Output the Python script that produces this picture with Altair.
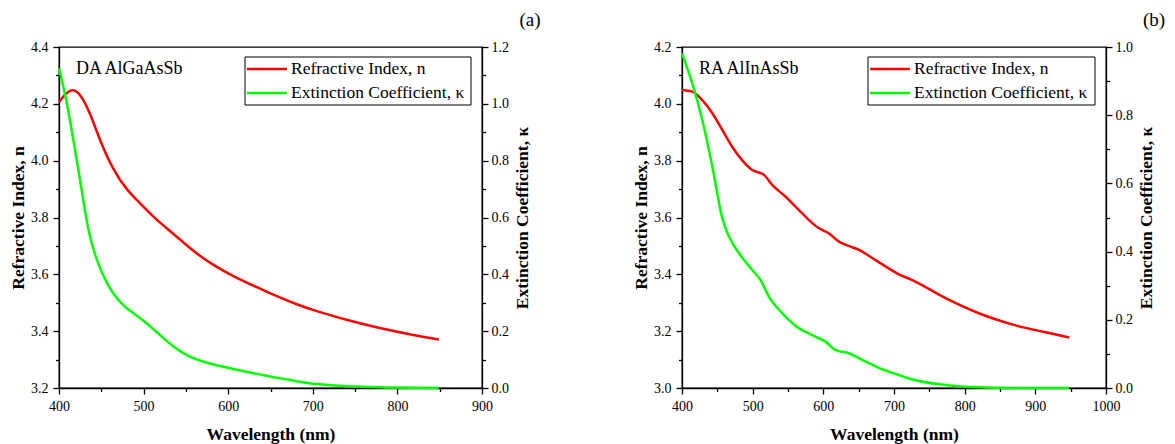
import altair as alt
import pandas as pd

# ---- data ----
series_names = ["Refractive Index, n", "Extinction Coefficient, κ"]
series_colors = ["#ff0000", "#00ff00"]

a_n_wl = [400, 414, 425, 437, 448, 464, 480, 496, 513, 535, 559, 582, 606, 645, 685, 701, 740, 779, 819, 849]
a_n_val = [4.207, 4.258, 4.238, 4.167, 4.073, 3.967, 3.897, 3.850, 3.797, 3.744, 3.680, 3.633, 3.592, 3.539,
           3.489, 3.474, 3.439, 3.410, 3.386, 3.371]

a_k_wl = [400, 409, 417, 425, 432, 437, 445, 456, 472, 488, 504, 519, 535, 551, 575, 606, 645, 685, 701, 740,
          779, 820, 849]
a_k_val = [1.125, 1.013, 0.873, 0.732, 0.597, 0.525, 0.445, 0.368, 0.298, 0.263, 0.228, 0.187, 0.145, 0.113,
           0.087, 0.067, 0.042, 0.022, 0.014, 0.005, 0.002, 0.0005, 0.0]

b_n_wl = [400, 414.6, 428.7, 443, 457, 471, 485, 499.5, 516, 528, 546.7, 565.6, 579.7, 594, 608, 622, 636,
          650.5, 674, 707, 726, 773, 820, 867, 914.6, 948]
b_n_val = [4.049, 4.043, 4.013, 3.967, 3.908, 3.849, 3.802, 3.767, 3.750, 3.714, 3.673, 3.626, 3.591, 3.562,
           3.544, 3.515, 3.500, 3.486, 3.450, 3.400, 3.380, 3.316, 3.263, 3.224, 3.196, 3.178]

b_k_wl = [400, 414.6, 428.7, 443, 457, 466.5, 480.7, 499.5, 511, 523, 542, 561, 584, 603, 617.5, 636, 660,
          683, 707, 726, 773, 820, 867, 948]
b_k_val = [0.981, 0.893, 0.786, 0.649, 0.498, 0.444, 0.395, 0.346, 0.317, 0.268, 0.219, 0.182, 0.155, 0.136,
           0.111, 0.102, 0.077, 0.055, 0.038, 0.025, 0.009, 0.002, 0.0, 0.0]

panels = [
    dict(name="DA AlGaAsSb", tag="(a)", xmax=900, nmin=3.2, nmax=4.4, kmax=1.2, interp="basis",
         n=(a_n_wl, a_n_val), k=(a_k_wl, a_k_val)),
    dict(name="RA AlInAsSb", tag="(b)", xmax=1000, nmin=3.0, nmax=4.2, kmax=1.0, interp="monotone",
         n=(b_n_wl, b_n_val), k=(b_k_wl, b_k_val)),
]

FONT = "Liberation Serif"
H = 341


def steps(lo, hi, step):
    out = []
    i = 0
    while lo + i * step <= hi + 1e-9:
        out.append(round(lo + i * step, 2))
        i += 1
    return out


y_major_test = "round(datum.value*10) % 2 == 0"
y_label = "round(datum.value*10) % 2 == 0 ? format(datum.value, '.1f') : ''"
x_major_test = "datum.value % 100 == 0"
x_label = "datum.value % 100 == 0 ? format(datum.value, 'd') : ''"


def panel(p, width):
    dn = pd.DataFrame({"wl": p["n"][0], "v": p["n"][1]})
    dk = pd.DataFrame({"wl": p["k"][0], "v": p["k"][1]})

    x = alt.X("wl:Q", scale=alt.Scale(domain=[400, p["xmax"]], nice=False, zero=False),
              axis=alt.Axis(values=steps(400, p["xmax"], 50), labelExpr=x_label, labelOverlap=False,
                            labelFlush=False,
                            tickSize={"condition": {"test": x_major_test, "value": 6}, "value": 3.5},
                            title="Wavelength (nm)", labelPadding=5, titlePadding=12))

    ln = alt.Chart(dn).mark_line(strokeWidth=2.5, interpolate=p["interp"], color=series_colors[0]).encode(
        x=x,
        y=alt.Y("v:Q", scale=alt.Scale(domain=[p["nmin"], p["nmax"]], nice=False, zero=False),
                axis=alt.Axis(orient="left", values=steps(p["nmin"], p["nmax"], 0.1), labelExpr=y_label,
                              labelOverlap=False, labelFlush=False,
                              tickSize={"condition": {"test": y_major_test, "value": 6}, "value": 3.5},
                              title="Refractive Index, n", labelPadding=5, titlePadding=3)),
    )
    lk = alt.Chart(dk).mark_line(strokeWidth=2.5, interpolate=p["interp"], color=series_colors[1]).encode(
        x=x,
        y=alt.Y("v:Q", scale=alt.Scale(domain=[0, p["kmax"]], nice=False, zero=False),
                axis=alt.Axis(orient="right", values=steps(0, p["kmax"], 0.1), labelExpr=y_label,
                              labelOverlap=False, labelFlush=False,
                              tickSize={"condition": {"test": y_major_test, "value": 6}, "value": 3.5},
                              title="Extinction Coefficient, κ", titleAngle=270, titleBaseline="top",
                              labelPadding=3, titlePadding=5)),
    )

    one = pd.DataFrame({"k": [0]})
    box = alt.Chart(one).mark_rect(fill="white", stroke="black", strokeWidth=1).encode(
        x=alt.value(186), x2=alt.value(width - 11), y=alt.value(10), y2=alt.value(58))
    legend_layers = [box]
    for i, (nm, col) in enumerate(zip(series_names, series_colors)):
        yy = 22 + 24 * i
        legend_layers.append(alt.Chart(one).mark_rule(color=col, strokeWidth=2.5).encode(
            x=alt.value(188), x2=alt.value(228), y=alt.value(yy)))
        legend_layers.append(alt.Chart(pd.DataFrame({"t": [nm]})).mark_text(
            font=FONT, fontSize=17.5, align="left", baseline="middle", color="black").encode(
            text="t:N", x=alt.value(232), y=alt.value(yy)))

    name = alt.Chart(pd.DataFrame({"t": [p["name"]]})).mark_text(
        font=FONT, fontSize=18, align="left", baseline="middle", color="black"
    ).encode(text="t:N", x=alt.value(17), y=alt.value(22))
    tag = alt.Chart(pd.DataFrame({"t": [p["tag"]]})).mark_text(
        font=FONT, fontSize=19, align="center", baseline="middle", color="black", clip=False
    ).encode(text="t:N", x=alt.value(width + 48), y=alt.value(-27))

    return alt.layer(ln, lk, *legend_layers, name, tag).resolve_scale(y="independent").properties(
        width=width, height=H)


chart = alt.hconcat(panel(panels[0], 423), panel(panels[1], 424), spacing=89).properties(
    padding={"left": 8, "top": 10, "right": 0, "bottom": 0}
).configure_view(stroke="black", strokeWidth=1.3).configure_axis(
    labelFont=FONT, labelFontSize=14, labelColor="black",
    titleFont=FONT, titleFontSize=17.5, titleFontWeight="bold", titleColor="black",
    domainColor="black", domainWidth=1.3, tickColor="black", tickWidth=1.3, grid=False,
)

chart.save("out.html", embed_options={"renderer": "svg", "actions": False})
